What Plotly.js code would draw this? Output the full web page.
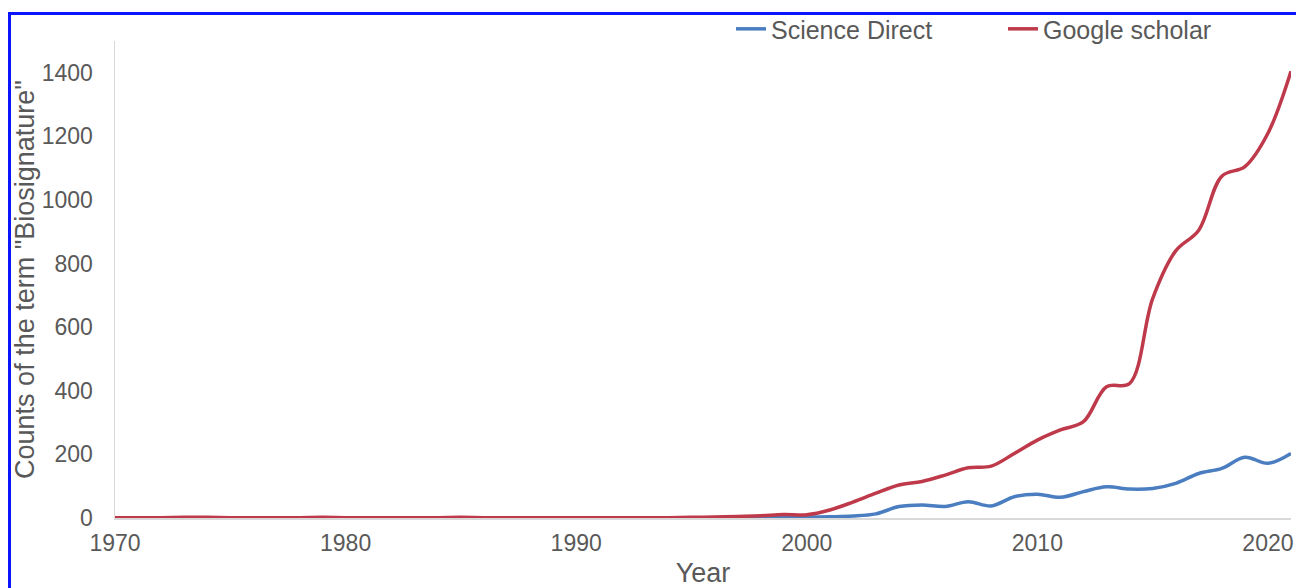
<!DOCTYPE html>
<html>
<head>
<meta charset="utf-8">
<script src="https://cdn.plot.ly/plotly-3.0.1.min.js"></script>
<style>
  html, body { margin: 0; padding: 0; background: #ffffff; overflow: hidden; }
  #chart { width: 1296px; height: 588px; position: absolute; left: 0; top: 0; }
  #frame { position: absolute; left: 8px; top: 12px; width: 1400px; height: 700px;
           border-top: 3px solid #0a14ff; border-left: 3px solid #0a14ff; pointer-events: none; }
</style>
</head>
<body>
<div id="chart"></div>
<div id="frame"></div>
<script>
const years = [];
for (let y = 1970; y <= 2021; y++) years.push(y);

const scienceDirect = [
  0,0,0,0,0,0,0,0,0,0,
  0,0,0,0,0,0,0,0,0,0,
  0,0,0,0,0,0,0,1,1,2,
  3,4,6,13,36,41,36,51,38,67,75,65,83,98,91,93,109,140,156,191,172,203
];
const googleScholar = [
  1,1,1,2,2,1,1,1,1,2,
  1,1,1,1,1,2,1,1,1,1,
  1,1,1,1,1,2,3,5,7,11,
  10,25,50,78,104,115,135,158,163,203,245,277,303,413,423,690,840,905,1075,1105,1210,1405
];
const seriesNames = ["Science Direct", "Google scholar"];
const xTicks = [1970, 1980, 1990, 2000, 2010, 2020];
const yTicks = [0, 200, 400, 600, 800, 1000, 1200, 1400];

const font = "Liberation Sans, Arial, sans-serif";
const grey = "#595959";

const traces = [
  { x: years, y: scienceDirect, name: seriesNames[0], type: "scatter", mode: "lines",
    line: { color: "#4a7ec0", width: 3.5, shape: "spline", smoothing: 1 } },
  { x: years, y: googleScholar, name: seriesNames[1], type: "scatter", mode: "lines",
    line: { color: "#be3a4a", width: 3.5, shape: "spline", smoothing: 1 } }
];

const layout = {
  width: 1296, height: 588,
  margin: { l: 115, r: 5, t: 41, b: 70 },
  paper_bgcolor: "#ffffff", plot_bgcolor: "#ffffff",
  font: { family: font, size: 23, color: grey },
  showlegend: true,
  legend: {
    orientation: "h", x: 0.5238, xanchor: "left", y: 1.025, yanchor: "middle",
    font: { family: font, size: 25, color: grey },
    entrywidth: 227, entrywidthmode: "pixels", itemwidth: 30,
    bgcolor: "rgba(0,0,0,0)"
  },
  xaxis: {
    range: [1970, 2021], tickmode: "array", tickvals: xTicks, ticktext: xTicks.map(String),
    showgrid: false, zeroline: false, showline: true, linecolor: "#d9d9d9", linewidth: 1.5,
    ticks: "", ticklabelstandoff: 4, tickfont: { family: font, size: 23, color: grey },
    title: { text: "Year", font: { family: font, size: 27, color: grey }, standoff: 18 }
  },
  yaxis: {
    range: [0, 1500], tickmode: "array", tickvals: yTicks, ticktext: yTicks.map(String),
    showgrid: false, zeroline: false, showline: true, linecolor: "#d9d9d9", linewidth: 1.5,
    ticks: "", ticklabelstandoff: 16, tickfont: { family: font, size: 23, color: grey },
    title: { text: 'Counts of the term "Biosignature"', font: { family: font, size: 27, color: grey } }
  }
};

Plotly.newPlot("chart", traces, layout, { displayModeBar: false, staticPlot: true });
</script>
</body>
</html>
